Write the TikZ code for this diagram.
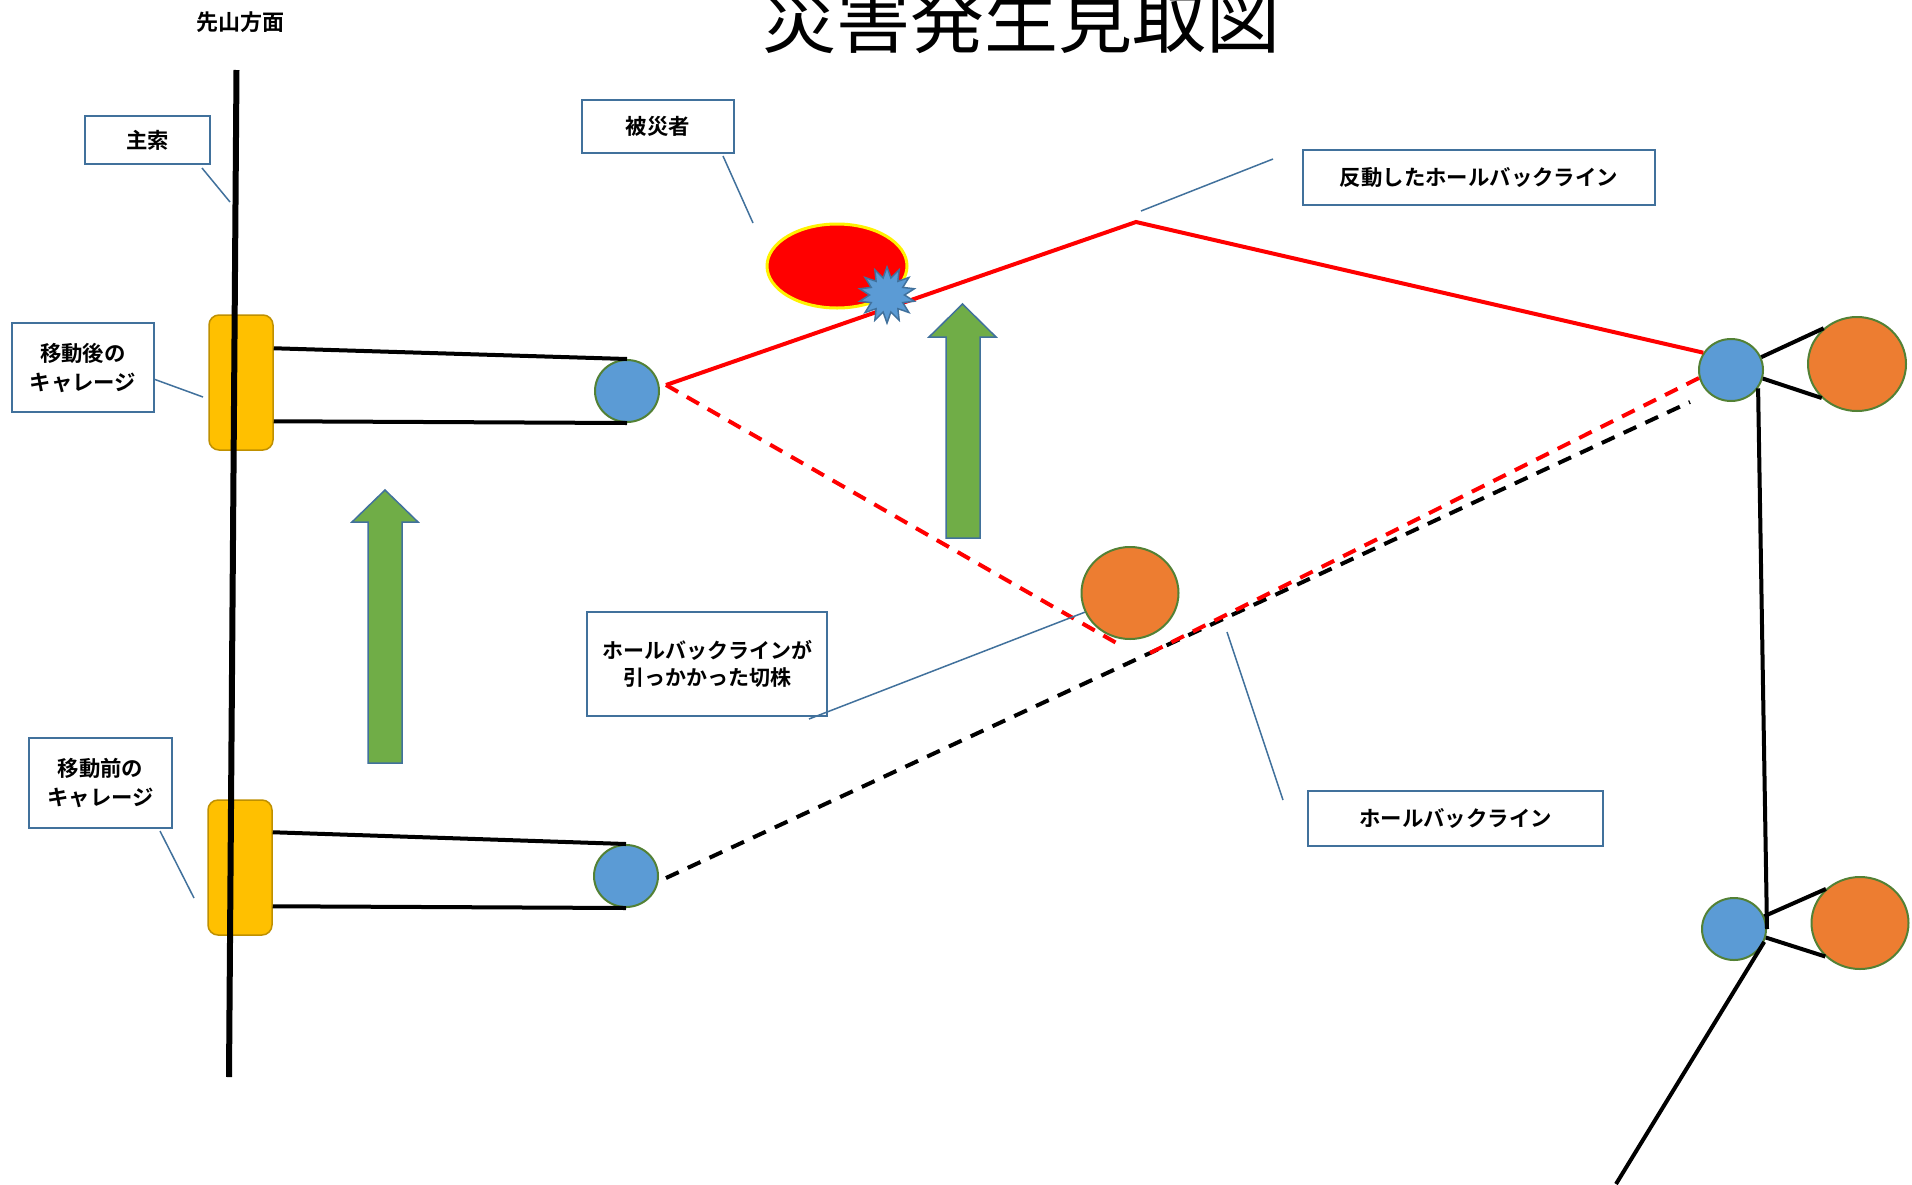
\documentclass[tikz,border=0pt]{standalone}
\usepackage{fontspec}
\setmainfont{Noto Sans CJK JP}[BoldFont=Noto Sans CJK JP Bold]
\usetikzlibrary{shapes.geometric,calc}

\definecolor{boxblue}{HTML}{41719C}
\definecolor{pulleyblue}{HTML}{5B9BD5}
\definecolor{stumporange}{HTML}{ED7D31}
\definecolor{rimgreen}{HTML}{538135}
\definecolor{liftgreen}{HTML}{70AD47}
\definecolor{carriagegold}{HTML}{FFC000}
\definecolor{carriagerim}{HTML}{BF9000}

\tikzset{
  labelbox/.style={draw=boxblue, line width=1pt, fill=white, align=center, inner sep=0pt,
    font=\bfseries\fontsize{10.7}{14.5}\selectfont},
  leader/.style={draw=boxblue, line width=0.75pt},
  carriage/.style={draw=carriagerim, fill=carriagegold, rounded corners=5pt, line width=0.75pt,
    minimum width=32pt, minimum height=67.5pt, inner sep=0pt},
  pulley/.style={ellipse, draw=rimgreen, fill=pulleyblue, line width=1pt,
    minimum width=32pt, minimum height=31pt, inner sep=0pt},
  stump/.style={ellipse, draw=rimgreen, fill=stumporange, line width=1pt,
    minimum width=48.5pt, minimum height=46pt, inner sep=0pt},
  wire/.style={black, line width=2pt},
  redline/.style={red, line width=2pt},
  reddash/.style={red, line width=2pt, dash pattern=on 7pt off 5pt},
  blackdash/.style={black, line width=2pt, dash pattern=on 7pt off 5pt},
  lift/.style={fill=liftgreen, draw=boxblue, line width=0.75pt},
}

\begin{document}
\begin{tikzpicture}[x=0.5pt,y=-0.5pt]
\useasboundingbox[fill=white] (0,0) rectangle (1912,1184);
% title and direction
\node[font=\fontsize{37}{40}\selectfont, anchor=base] (title) at (1021,47) {災害発生見取図};
\node[font=\bfseries\fontsize{11}{13}\selectfont] (direction) at (240,22) {先山方面};

% carriages on the main rope
\node[carriage] (upcar) at (241,382.5) {};
\node[carriage] (lowcar) at (240,867.5) {};
\coordinate (ropetop) at (236.5,70);
\coordinate (ropebottom) at (229,1077);
\draw[black, line width=3pt] (ropetop) -- (ropebottom);

% pulleys and stumps
\node[pulley] (uppul) at (627,391) {};
\node[pulley] (lowpul) at (626,876) {};
\node[pulley] (rpul1) at (1731,370) {};
\node[pulley] (rpul2) at (1734,929) {};
\node[stump] (stump) at (1130,593) {};
\node[stump, minimum width=49pt, minimum height=47pt] (rstump1) at (1857,364) {};
\node[stump] (rstump2) at (1860,923) {};

% carriage wires
\draw[wire] ($(upcar.north east)+(0,34)$) -- (uppul.north);
\draw[wire] ($(upcar.north east)+(0,107)$) -- (uppul.south);
\draw[wire] ($(lowcar.north east)+(0,33)$) -- (lowpul.north);
\draw[wire] ($(lowcar.north east)+(0,107)$) -- (lowpul.south);

% right side anchors
\draw[wire] (rpul1.23) -- (rstump1.133);
\draw[wire] (rpul1.345) -- (rstump1.224);
\draw[wire] (rpul1.326) -- (rpul2.east);
\draw[wire] (rpul2.23) -- (rstump2.135);
\draw[wire] (rpul2.345) -- (rstump2.224);
\coordinate (ropeend) at (1616,1184);
\draw[wire] (rpul2.337) -- (ropeend);

% victim
\node[ellipse, draw=yellow, fill=red, line width=1.5pt, minimum width=70pt, minimum height=42pt] (victim) at (837,266) {};

% haul-back lines
\coordinate (peak) at (1136,222);
\coordinate (snag1) at (1120,645);
\coordinate (snag2) at (1150,653);
\coordinate (haulend) at (1690,402);
\draw[blackdash] ($(lowpul.east)+(7,2)$) -- (haulend);
\draw[reddash] ($(uppul.east)+(6,-6)$) -- (snag1);
\draw[reddash] (snag2) -- (rpul1.194);
\draw[redline] ($(uppul.east)+(6,-6)$) -- (peak) -- (rpul1.148);

% impact
\node[star, star points=14, star point ratio=1.6, minimum size=28pt, inner sep=0pt,
  fill=pulleyblue, draw=boxblue, line width=0.75pt] (impact) at (887,295) {};

% carriage movement
\filldraw[lift] (368,763) -- (368,522) -- (352,522) -- (385,490) -- (418,522) -- (402,522) -- (402,763) -- cycle;
\filldraw[lift] (946,538) -- (946,337) -- (929,337) -- (962.5,304) -- (996,337) -- (980,337) -- (980,538) -- cycle;

% labels
\node[labelbox, minimum width=62.5pt, minimum height=24pt] (mainbox) at (147.5,140) {主索};
\node[labelbox, minimum width=71pt, minimum height=44.5pt] (afterbox) at (83,367.5) {移動後の\\キャレージ};
\node[labelbox, minimum width=71.5pt, minimum height=45pt] (beforebox) at (100.5,783) {移動前の\\キャレージ};
\node[labelbox, minimum width=76pt, minimum height=26.5pt] (victimbox) at (658,126.5) {被災者};
\node[labelbox, minimum width=120pt, minimum height=52pt, font=\bfseries\fontsize{10.5}{13.5}\selectfont] (stumpbox) at (707,664) {ホールバックラインが\\引っかかった切株};
\node[labelbox, minimum width=176pt, minimum height=27.5pt] (reboundbox) at (1479,177.5) {反動したホールバックライン};
\node[labelbox, minimum width=147.5pt, minimum height=27.5pt] (linebox) at (1455.5,818.5) {ホールバックライン};

% leaders
\coordinate (mainmark) at (230,202);
\coordinate (aftermark) at (203,397);
\coordinate (beforemark) at (194,898);
\coordinate (victimmark) at (753,223);
\coordinate (linemark) at (1227,632);
\coordinate (reboundmark) at (1141,211);
\draw[leader] ($(mainbox.south east)+(-9,3)$) -- (mainmark);
\draw[leader] ($(afterbox.east)+(0,12)$) -- (aftermark);
\draw[leader] ($(beforebox.south east)+(-13,2)$) -- (beforemark);
\draw[leader] ($(victimbox.south east)+(-12,2)$) -- (victimmark);
\draw[leader] (stump.203) -- ($(stumpbox.south east)+(-19,2)$);
\draw[leader] (linemark) -- ($(linebox.north west)+(-24,10)$);
\draw[leader] ($(reboundbox.north west)+(-29,10)$) -- (reboundmark);
\end{tikzpicture}
\end{document}
